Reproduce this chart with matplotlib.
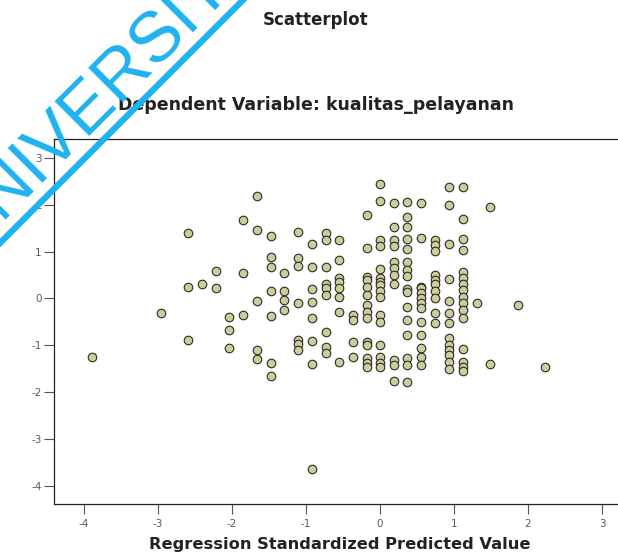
# Scatterplot residual vs predicted (SPSS style)

import numpy as np
import matplotlib
matplotlib.use('Agg')
import matplotlib.pyplot as plt
from matplotlib.lines import Line2D

plt.rcParams['axes.unicode_minus'] = False

# x columns (regression standardized predicted value)
pred_cols = [-3.89, -2.96, -2.59, -2.41, -2.22, -2.04, -1.85, -1.66, -1.47, -1.30,
             -1.11, -0.92, -0.73, -0.55, -0.37, -0.18, 0.00, 0.19, 0.37, 0.56,
             0.74, 0.93, 1.12, 1.31, 1.49, 1.86, 2.23]

# residual values per column
resid_cols = [
    [-1.26],
    [-0.32],
    [1.41, 0.25, -0.88],
    [0.32],
    [0.58, 0.22],
    [-0.40, -0.67, -1.06],
    [1.67, 0.55, -0.36],
    [2.18, 1.46, -0.05, -1.09, -1.29],
    [1.33, 0.89, 0.68, 0.17, -0.38, -1.38, -1.66],
    [0.55, 0.15, -0.04, -0.24],
    [1.42, 0.87, 0.69, -0.09, -0.89, -0.97, -1.11],
    [1.16, 0.67, 0.21, -0.07, -0.42, -0.90, -1.41, -3.64],
    [1.41, 1.26, 0.67, 0.30, 0.22, 0.07, -0.72, -1.03, -1.16],
    [1.26, 0.83, 0.44, 0.36, 0.22, 0.04, -0.29, -1.36],
    [-0.35, -0.46, -0.93, -1.26],
    [1.78, 1.08, 0.46, 0.40, 0.25, 0.08, -0.14, -0.28, -0.42, -0.92, -1.00, -1.28, -1.37, -1.47],
    [2.45, 2.09, 1.26, 1.12, 0.64, 0.43, 0.36, 0.29, 0.15, 0.04, -0.35, -0.50, -0.99, -1.26, -1.37, -1.47],
    [2.05, 1.52, 1.25, 1.12, 0.79, 0.65, 0.50, 0.31, -1.31, -1.42, -1.77],
    [2.07, 1.75, 1.52, 1.28, 1.05, 0.77, 0.61, 0.48, 0.20, 0.13, -0.18, -0.46, -0.78, -1.28, -1.42, -1.78],
    [2.03, 1.30, 0.25, 0.22, 0.11, 0.00, -0.10, -0.21, -0.50, -0.78, -1.06, -1.24, -1.42],
    [1.25, 1.14, 1.01, 0.50, 0.40, 0.32, 0.15, 0.00, -0.32, -0.53],
    [2.39, 2.00, 1.16, 0.41, -0.05, -0.32, -0.53, -0.85, -0.99, -1.10, -1.21, -1.35, -1.50],
    [2.38, 1.69, 1.28, 1.04, 0.57, 0.43, 0.31, 0.18, 0.04, -0.10, -0.25, -0.42, -1.07, -1.35, -1.46, -1.55],
    [-0.10],
    [1.96, -1.40],
    [-0.14],
    [-1.46],
]

xticks = [-4, -3, -2, -1, 0, 1, 2, 3]
yticks = [-4, -3, -2, -1, 0, 1, 2, 3]

x = np.concatenate([[c] * len(r) for c, r in zip(pred_cols, resid_cols)])
y = np.concatenate([np.array(r) for r in resid_cols])

W, H = 618, 559
fig = plt.figure(figsize=(W / 100, H / 100), dpi=100)
fig.patch.set_facecolor('white')

ax = fig.add_axes([54 / W, (H - 504) / H, 1 - 54 / W, (504 - 139) / H])
ax.scatter(x, y, s=38, c='#cdcd9b', edgecolors='#2b2b2b', linewidths=0.8, zorder=3)

ax.set_xlim(-4.405, 3.216)
ax.set_ylim(-4.391, 3.408)
ax.set_xticks(xticks)
ax.set_yticks(yticks)
ax.tick_params(direction='out', length=7, width=0.8, color='#555555',
               labelsize=7.5, labelcolor='#5a5a5a', pad=2)
ax.tick_params(axis='x', pad=4)
ax.spines['right'].set_visible(False)
for s in ['left', 'top', 'bottom']:
    ax.spines[s].set_linewidth(0.9)
    ax.spines[s].set_color('#222222')

fig.text(316 / W, 1 - 20 / H, 'Scatterplot', ha='center', va='center',
         fontsize=12, fontweight='bold', color='#222222')
fig.text(316 / W, 1 - 105 / H, 'Dependent Variable: kualitas_pelayanan', ha='center', va='center',
         fontsize=12.5, fontweight='bold', color='#222222')
fig.text(340 / W, 1 - 545 / H, 'Regression Standardized Predicted Value', ha='center', va='center',
         fontsize=11.7, fontweight='bold', color='#222222')

# watermark
blue = '#1fb2ef'
fig.text(-35 / W, 1 - 256 / H, 'UNIVERSITAS', rotation=45, rotation_mode='anchor',
         ha='left', va='baseline', fontsize=51, family='Liberation Sans',
         color=blue, zorder=10)
fig.add_artist(Line2D([-20 / W, 270 / W], [1 - 263 / H, 1 + 27 / H],
                      transform=fig.transFigure, color=blue, linewidth=4.5, zorder=10))

plt.savefig('out.png', dpi=100)
